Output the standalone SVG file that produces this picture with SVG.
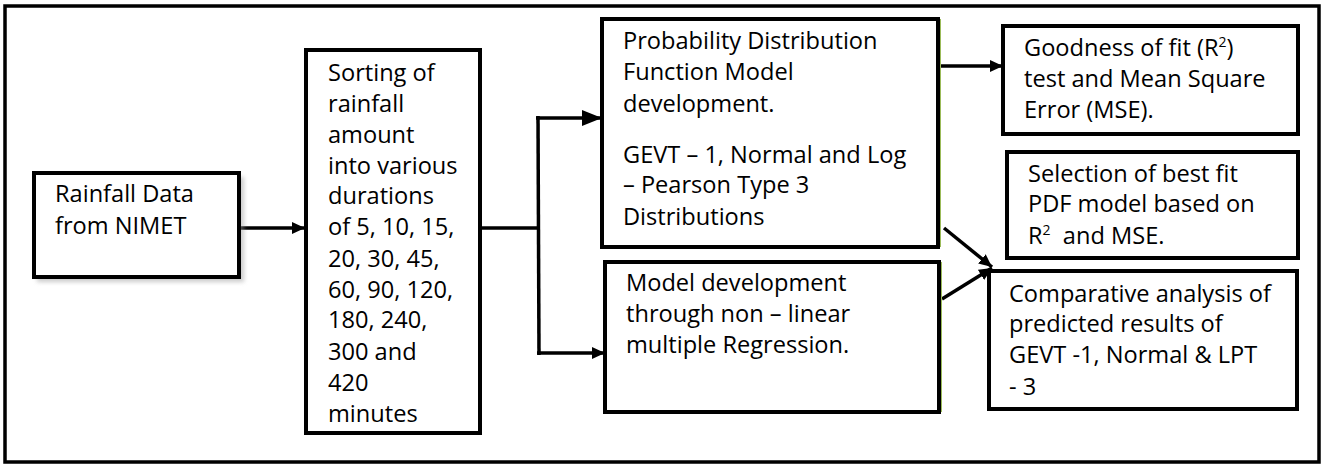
<svg xmlns="http://www.w3.org/2000/svg" width="1326" height="465" viewBox="0 0 1326 465">
<style>
.box{fill:#fff;stroke:#000;stroke-width:4}
.t{font-family:"Open Sans","Noto Sans",sans-serif;font-size:23.6px;fill:#000}
.c{fill:none;stroke:#000;stroke-width:3.5}
.sup{font-size:14px}
</style>
<defs>
<marker id="ah" markerUnits="userSpaceOnUse" markerWidth="13" markerHeight="12" refX="13" refY="6" orient="auto"><path d="M0,0 L13,6 L0,12 z" fill="#000"/></marker>
<marker id="ahL" markerUnits="userSpaceOnUse" markerWidth="20" markerHeight="16" refX="20" refY="8" orient="auto"><path d="M0,0 L20,8 L0,16 z" fill="#000"/></marker>
<filter id="sh" x="-10%" y="-10%" width="130%" height="140%"><feGaussianBlur stdDeviation="2"/></filter>
</defs>
<rect x="5" y="6" width="1314" height="456" fill="#fff" stroke="#000" stroke-width="3.5"/>
<g id="connectors">
<line class="c" x1="239" y1="228" x2="305" y2="228" marker-end="url(#ah)"/>
<line class="c" x1="480" y1="228" x2="538" y2="228" stroke-width="3"/>
<line class="c" x1="538" y1="116" x2="539" y2="355" stroke-width="5"/>
<line class="c" x1="536" y1="118" x2="602" y2="118" stroke-width="4.5" marker-end="url(#ahL)"/>
<line class="c" x1="537" y1="353" x2="605" y2="353" stroke-width="4" marker-end="url(#ah)"/>
<line class="c" x1="938" y1="66" x2="1003" y2="66" marker-end="url(#ah)"/>
<line class="c" x1="944" y1="228" x2="992" y2="267" marker-end="url(#ah)"/>
<line class="c" x1="942" y1="299" x2="992" y2="268" marker-end="url(#ah)"/>
</g>
<g id="n1">
<rect x="37" y="177" width="207" height="105" fill="#999" opacity="0.5" filter="url(#sh)"/>
<rect class="box" x="34" y="173" width="205" height="104"/>
<text class="t" x="55" y="202">Rainfall Data</text>
<text class="t" x="55" y="234">from NIMET</text>
</g>
<g id="n2">
<rect class="box" x="306" y="50" width="174" height="383"/>
<text class="t" x="328" y="81">Sorting of</text>
<text class="t" x="328" y="112">rainfall</text>
<text class="t" x="328" y="143">amount</text>
<text class="t" x="328" y="174">into various</text>
<text class="t" x="328" y="204">durations</text>
<text class="t" x="328" y="235">of 5, 10, 15,</text>
<text class="t" x="328" y="267">20, 30, 45,</text>
<text class="t" x="328" y="298">60, 90, 120,</text>
<text class="t" x="328" y="328">180, 240,</text>
<text class="t" x="328" y="360">300 and</text>
<text class="t" x="328" y="391">420</text>
<text class="t" x="328" y="422">minutes</text>
</g>
<g id="n3">
<rect class="box" x="602" y="19" width="336" height="228"/>
<line x1="940.5" y1="19" x2="940.5" y2="247" stroke="#9bbb59" stroke-width="1"/>
<text class="t" x="623" y="49">Probability Distribution</text>
<text class="t" x="623" y="80">Function Model</text>
<text class="t" x="623" y="112">development.</text>
<text class="t" x="623" y="163">GEVT – 1, Normal and Log</text>
<text class="t" x="623" y="193">– Pearson Type 3</text>
<text class="t" x="623" y="225">Distributions</text>
</g>
<g id="n4">
<rect class="box" x="605" y="262" width="334" height="150"/>
<line x1="941.5" y1="262" x2="941.5" y2="412" stroke="#9bbb59" stroke-width="1"/>
<text class="t" x="626" y="291">Model development</text>
<text class="t" x="626" y="322">through non – linear</text>
<text class="t" x="626" y="353">multiple Regression.</text>
</g>
<g id="n5">
<rect class="box" x="1003" y="26" width="295" height="108"/>
<text class="t" x="1024" y="56">Goodness of fit (R<tspan class="sup" dy="-9">2</tspan><tspan dy="9">)</tspan></text>
<text class="t" x="1024" y="87">test and Mean Square</text>
<text class="t" x="1024" y="118">Error (MSE).</text>
</g>
<g id="n6">
<rect class="box" x="1007" y="152" width="291" height="106"/>
<text class="t" x="1028" y="182">Selection of best fit</text>
<text class="t" x="1028" y="212">PDF model based on</text>
<text class="t" x="1028" y="244" xml:space="preserve">R<tspan class="sup" dy="-9">2</tspan><tspan dy="9">  and MSE.</tspan></text>
</g>
<g id="n7">
<rect class="box" x="989" y="271" width="308" height="138"/>
<text class="t" x="1009" y="302">Comparative analysis of</text>
<text class="t" x="1009" y="332">predicted results of</text>
<text class="t" x="1009" y="363">GEVT -1, Normal &amp; LPT</text>
<text class="t" x="1009" y="395">- 3</text>
</g>
</svg>
